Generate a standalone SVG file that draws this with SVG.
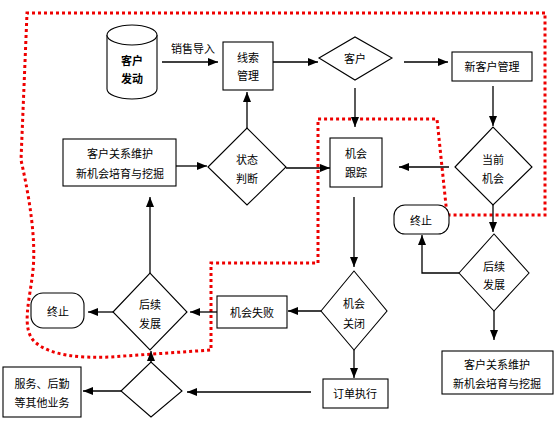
<svg xmlns="http://www.w3.org/2000/svg" width="556" height="422" viewBox="0 0 556 422">
<defs>
<marker id="ah" markerUnits="userSpaceOnUse" markerWidth="10" markerHeight="8" refX="10" refY="4" orient="auto">
<path d="M0,0 L10,4 L0,8 z" fill="#000"/>
</marker>
<style>
.n{fill:#fff;stroke:#000;stroke-width:1.1}
.t{font-family:"Noto Sans CJK SC","Liberation Sans",sans-serif;font-size:11px;fill:#000;text-anchor:middle;dominant-baseline:central}
.b{font-weight:bold}
.c{fill:none;stroke:#000;stroke-width:1.3;marker-end:url(#ah)}
.r{fill:none;stroke:#e00;stroke-width:3;stroke-dasharray:3 3}
</style>
</defs>
<rect width="556" height="422" fill="#fff"/>
<g id="boundary">
<path class="r" d="M545,13 L27,13 L21,160 C30,200 36,240 33,270 C30,300 20,330 36,343 C52,356 80,358 110,357 L211,350 L211,263 L318,263 L318,119 L437,119 L447,215 L545,215 Z"/>
</g>
<g id="source">
<path class="n" d="M107,35 L107,89 A25,10 0 0 0 157,89 L157,35"/>
<ellipse class="n" cx="132" cy="35" rx="25" ry="10"/>
<text class="t b" x="132" y="60">客户</text>
<text class="t b" x="132" y="78">发动</text>
</g>
<g id="leads">
<rect class="n" x="223" y="42" width="50" height="48"/>
<text class="t" x="248" y="57">线索</text>
<text class="t" x="248" y="75">管理</text>
</g>
<g id="customer">
<polygon class="n" points="319,58 355,37 392,58 355,80"/>
<text class="t" x="355" y="58">客户</text>
</g>
<g id="newcust">
<rect class="n" x="452" y="52" width="80" height="29"/>
<text class="t" x="492" y="66">新客户管理</text>
</g>
<g id="current">
<polygon class="n" points="455,167 493,127 532,167 493,205"/>
<text class="t" x="493" y="159">当前</text>
<text class="t" x="493" y="178">机会</text>
</g>
<g id="track">
<rect class="n" x="330" y="138" width="52" height="49"/>
<text class="t" x="356" y="153">机会</text>
<text class="t" x="356" y="172">跟踪</text>
</g>
<g id="state">
<polygon class="n" points="208,167 247,128 286,167 247,205"/>
<text class="t" x="247" y="159">状态</text>
<text class="t" x="247" y="178">判断</text>
</g>
<g id="crm1">
<rect class="n" x="63" y="139" width="113" height="47"/>
<text class="t" x="120" y="153">客户关系维护</text>
<text class="t" x="120" y="173">新机会培育与挖掘</text>
</g>
<g id="follow1">
<polygon class="n" points="113,312 150,273 187,312 150,350"/>
<text class="t" x="150" y="304">后续</text>
<text class="t" x="150" y="323">发展</text>
</g>
<g id="end1">
<rect class="n" x="31" y="293" width="53" height="35" rx="12"/>
<text class="t" x="58" y="311">终止</text>
</g>
<g id="fail">
<rect class="n" x="217" y="296" width="70" height="32"/>
<text class="t" x="252" y="312">机会失败</text>
</g>
<g id="close">
<polygon class="n" points="321,311 354,271 387,311 354,350"/>
<text class="t" x="354" y="303">机会</text>
<text class="t" x="354" y="323">关闭</text>
</g>
<g id="order">
<rect class="n" x="323" y="379" width="65" height="29"/>
<text class="t" x="355" y="393">订单执行</text>
</g>
<g id="branch">
<polygon class="n" points="121,391 151,362 182,391 151,417"/>
</g>
<g id="service">
<rect class="n" x="3" y="367" width="78" height="50"/>
<text class="t" x="42" y="383">服务、后勤</text>
<text class="t" x="42" y="402">等其他业务</text>
</g>
<g id="follow2">
<polygon class="n" points="459,273 494,234 529,273 494,311"/>
<text class="t" x="494" y="266">后续</text>
<text class="t" x="494" y="284">发展</text>
</g>
<g id="end2">
<rect class="n" x="394" y="205" width="55" height="29" rx="11"/>
<text class="t" x="421" y="220">终止</text>
</g>
<g id="crm2">
<rect class="n" x="442" y="351" width="111" height="43"/>
<text class="t" x="497" y="364">客户关系维护</text>
<text class="t" x="497" y="383">新机会培育与挖掘</text>
</g>
<g id="connectors">
<path class="c" d="M162,62 L218,62"/>
<text class="t" x="193" y="48">销售导入</text>
<path class="c" d="M273,62 L318,62"/>
<path class="c" d="M404,62 L448,62"/>
<path class="c" d="M493,86 L493,126"/>
<path class="c" d="M449,167 L399,167"/>
<path class="c" d="M355,88 L355,127"/>
<path class="c" d="M286,168 L330,168"/>
<path class="c" d="M247,128 L247,92"/>
<path class="c" d="M176,166 L207,166"/>
<path class="c" d="M150,273 L150,197"/>
<path class="c" d="M113,312 L88,312"/>
<path class="c" d="M217,312 L190,312"/>
<path class="c" d="M321,311 L288,311"/>
<path class="c" d="M354,197 L354,267"/>
<path class="c" d="M354,350 L354,378"/>
<path class="c" d="M311,392 L187,392"/>
<path class="c" d="M151,362 L151,351"/>
<path class="c" d="M121,391 L83,391"/>
<path class="c" d="M493,205 L493,232"/>
<path class="c" d="M459,273 L422,273 L422,235"/>
<path class="c" d="M494,311 L494,340"/>
</g>
</svg>
